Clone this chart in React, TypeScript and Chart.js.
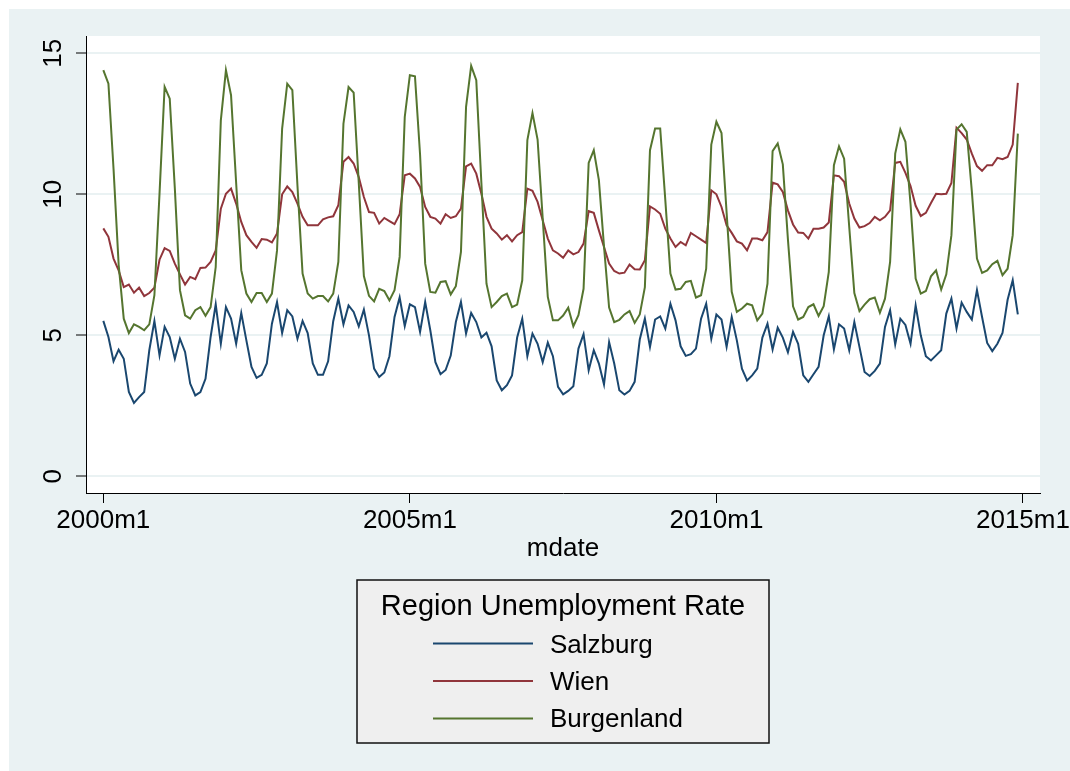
import { useEffect, useRef } from "react";
import { Chart, registerables } from "chart.js";

Chart.register(...registerables);

const FONT = '"Liberation Sans", Arial, Helvetica, sans-serif';

// Monthly unemployment rates, 2000m1 .. 2014m12
const salzburg = [
  5.51, 4.94, 4.08, 4.49, 4.17, 2.99, 2.6, 2.81, 2.99, 4.47, 5.51, 4.29,
  5.3, 4.94, 4.17, 4.88, 4.41, 3.29, 2.87, 2.99, 3.46, 4.94, 6.1, 4.7,
  6.0, 5.59, 4.7, 5.79, 4.82, 3.88, 3.49, 3.6, 4.0, 5.41, 6.18, 5.08,
  5.89, 5.67, 4.88, 5.51, 5.08, 4.0, 3.6, 3.6, 4.08, 5.5, 6.3, 5.39,
  6.06, 5.83, 5.32, 5.91, 5.0, 3.82, 3.52, 3.68, 4.26, 5.65, 6.34, 5.33,
  6.1, 6.0, 5.12, 6.18, 5.18, 4.05, 3.62, 3.77, 4.28, 5.47, 6.18, 5.06,
  5.79, 5.47, 4.92, 5.09, 4.61, 3.4, 3.05, 3.23, 3.58, 4.92, 5.59, 4.26,
  5.06, 4.7, 4.05, 4.74, 4.26, 3.17, 2.91, 3.03, 3.19, 4.53, 5.04, 3.76,
  4.47, 4.0, 3.26, 4.76, 4.0, 3.05, 2.9, 3.03, 3.35, 4.85, 5.59, 4.59,
  5.56, 5.67, 5.24, 6.12, 5.53, 4.61, 4.27, 4.33, 4.53, 5.59, 6.12, 4.88,
  5.74, 5.56, 4.59, 5.65, 4.82, 3.82, 3.4, 3.58, 3.82, 4.92, 5.41, 4.5,
  5.27, 4.92, 4.4, 5.12, 4.7, 3.58, 3.35, 3.62, 3.88, 5.0, 5.67, 4.5,
  5.39, 5.24, 4.47, 5.47, 4.59, 3.7, 3.56, 3.74, 4.0, 5.3, 5.89, 4.68,
  5.59, 5.37, 4.7, 6.06, 5.0, 4.26, 4.11, 4.29, 4.47, 5.77, 6.3, 5.24,
  6.16, 5.83, 5.56, 6.6, 5.65, 4.73, 4.44, 4.7, 5.08, 6.26, 6.95, 5.74,
];

const wien = [
  8.79, 8.49, 7.72, 7.3, 6.71, 6.8, 6.51, 6.69, 6.39, 6.5, 6.69, 7.68,
  8.09, 7.99, 7.54, 7.16, 6.8, 7.07, 6.99, 7.39, 7.4, 7.6, 8.01, 9.49,
  10.02, 10.2, 9.67, 9.02, 8.55, 8.31, 8.1, 8.41, 8.39, 8.29, 8.61, 10.0,
  10.28, 10.08, 9.67, 9.2, 8.9, 8.9, 8.9, 9.11, 9.18, 9.22, 9.61, 11.15,
  11.32, 11.09, 10.61, 9.9, 9.37, 9.34, 8.96, 9.16, 9.05, 8.94, 9.29, 10.67,
  10.73, 10.56, 10.26, 9.55, 9.2, 9.14, 8.96, 9.29, 9.16, 9.22, 9.49, 10.99,
  11.09, 10.73, 10.02, 9.2, 8.78, 8.61, 8.39, 8.55, 8.33, 8.55, 8.66, 10.2,
  10.12, 9.73, 9.08, 8.43, 8.01, 7.9, 7.75, 8.01, 7.87, 7.95, 8.25, 9.4,
  9.34, 8.72, 8.13, 7.54, 7.28, 7.19, 7.22, 7.51, 7.34, 7.33, 7.66, 9.57,
  9.46, 9.31, 8.78, 8.43, 8.13, 8.31, 8.19, 8.63, 8.51, 8.39, 8.27, 10.14,
  10.0, 9.55, 8.9, 8.63, 8.33, 8.25, 8.01, 8.43, 8.43, 8.37, 8.66, 10.41,
  10.35, 10.08, 9.43, 8.93, 8.64, 8.63, 8.43, 8.78, 8.78, 8.82, 9.0, 10.67,
  10.64, 10.44, 9.67, 9.14, 8.82, 8.87, 8.98, 9.2, 9.08, 9.2, 9.43, 11.11,
  11.15, 10.76, 10.29, 9.59, 9.23, 9.34, 9.69, 10.02, 10.0, 10.02, 10.4, 12.36,
  12.17, 11.94, 11.44, 11.0, 10.83, 11.03, 11.03, 11.29, 11.24, 11.32, 11.76, 13.95,
];

const burgenland = [
  14.4, 13.92, 10.9, 7.5, 5.59, 5.08, 5.39, 5.3, 5.18, 5.39, 6.42, 10.02,
  13.81, 13.39, 10.2, 6.6, 5.71, 5.59, 5.89, 6.0, 5.69, 6.0, 7.42, 12.62,
  14.4, 13.51, 10.4, 7.31, 6.48, 6.18, 6.5, 6.5, 6.18, 6.48, 8.01, 12.33,
  13.92, 13.69, 10.3, 7.19, 6.48, 6.3, 6.39, 6.39, 6.2, 6.48, 7.6, 12.5,
  13.8, 13.6, 10.4, 7.1, 6.4, 6.2, 6.65, 6.57, 6.24, 6.6, 7.78, 12.74,
  14.22, 14.18, 11.4, 7.54, 6.54, 6.51, 6.89, 6.92, 6.45, 6.74, 7.96, 13.1,
  14.55, 14.04, 10.4, 6.83, 6.0, 6.18, 6.39, 6.48, 6.0, 6.09, 6.95, 11.92,
  12.88, 11.94, 9.15, 6.36, 5.53, 5.53, 5.7, 5.98, 5.32, 5.71, 6.65, 11.11,
  11.56, 10.5, 8.15, 5.98, 5.47, 5.55, 5.74, 5.86, 5.44, 5.74, 6.71, 11.56,
  12.33, 12.33, 9.79, 7.19, 6.62, 6.65, 6.89, 6.93, 6.34, 6.42, 7.36, 11.76,
  12.57, 12.17, 9.35, 6.54, 5.83, 5.95, 6.12, 6.06, 5.53, 5.77, 6.83, 11.53,
  11.8, 11.06, 8.4, 6.03, 5.56, 5.65, 6.0, 6.1, 5.69, 6.03, 7.25, 11.03,
  11.7, 11.26, 8.84, 6.5, 5.86, 6.09, 6.28, 6.34, 5.8, 6.3, 7.6, 11.44,
  12.3, 11.86, 9.65, 7.01, 6.48, 6.57, 7.09, 7.3, 6.62, 7.16, 8.55, 12.29,
  12.48, 12.21, 10.1, 7.72, 7.21, 7.3, 7.52, 7.64, 7.13, 7.36, 8.55, 12.15,
];

const seriesNames = ["Salzburg", "Wien", "Burgenland"];
const seriesValues = [salzburg, wien, burgenland];
const seriesColors = ["#1A476F", "#90353B", "#55752F"];

const yTicks = [0, 5, 10, 15];
const xTickIndex = [0, 60, 120, 180];
const xTickLabels = ["2000m1", "2005m1", "2010m1", "2015m1"];
const xTitle = "mdate";
const legendTitle = "Region Unemployment Rate";

const bgPlugin = {
  id: "stataBackground",
  beforeDraw(chart: any) {
    const { ctx, width, height, chartArea } = chart;
    ctx.save();
    ctx.fillStyle = "#ffffff";
    ctx.fillRect(0, 0, width, height);
    ctx.fillStyle = "#EAF2F3";
    ctx.fillRect(9, 9, width - 9, height - 9);
    ctx.fillStyle = "#ffffff";
    ctx.fillRect(
      chartArea.left,
      chartArea.top,
      chartArea.right - chartArea.left,
      chartArea.bottom - chartArea.top
    );
    ctx.restore();
  },
};

const legendPlugin = {
  id: "stataLegend",
  afterDraw(chart: any) {
    const { ctx } = chart;
    const bx = 357;
    const by = 580;
    const bw = 412;
    const bh = 163;
    ctx.save();
    ctx.fillStyle = "#EFEFEF";
    ctx.fillRect(bx, by, bw, bh);
    ctx.strokeStyle = "#111111";
    ctx.lineWidth = 1.5;
    ctx.strokeRect(bx, by, bw, bh);

    ctx.fillStyle = "#000000";
    ctx.textBaseline = "alphabetic";
    ctx.textAlign = "center";
    ctx.font = `29px ${FONT}`;
    ctx.fillText(legendTitle, bx + bw / 2, 615);

    ctx.textAlign = "left";
    ctx.font = `26px ${FONT}`;
    chart.data.datasets.forEach((ds: any, i: number) => {
      const yLine = 643.5 + i * 37.5;
      ctx.strokeStyle = ds.borderColor;
      ctx.lineWidth = 2;
      ctx.beginPath();
      ctx.moveTo(433, yLine);
      ctx.lineTo(533, yLine);
      ctx.stroke();
      ctx.fillStyle = "#000000";
      ctx.fillText(ds.label, 550, 653.3 + i * 37);
    });
    ctx.restore();
  },
};

export default function App() {
  const canvasRef = useRef<HTMLCanvasElement | null>(null);

  useEffect(() => {
    const canvas = canvasRef.current;
    if (!canvas) return;

    const datasets = seriesNames.map((name, s) => ({
      label: name,
      data: seriesValues[s].map((v, i) => ({ x: i, y: v })),
      borderColor: seriesColors[s],
      backgroundColor: seriesColors[s],
      borderWidth: 2,
      pointRadius: 0,
      tension: 0,
      fill: false,
      order: seriesNames.length - s,
    }));

    const chart = new Chart(canvas, {
      type: "line",
      data: { datasets },
      options: {
        animation: false,
        responsive: false,
        devicePixelRatio: 1,
        layout: { padding: { top: 36, right: 30, bottom: 201, left: 0 } },
        plugins: {
          legend: { display: false },
          tooltip: { enabled: false },
        },
        scales: {
          x: {
            type: "linear",
            min: -3.39,
            max: 183.34,
            afterBuildTicks: (scale: any) => {
              scale.ticks = xTickIndex.map((v) => ({ value: v }));
            },
            afterFit: (scale: any) => {
              scale.height = 77;
              scale.paddingLeft = 0;
              scale.paddingRight = 0;
            },
            ticks: {
              autoSkip: false,
              minRotation: 0,
              maxRotation: 0,
              padding: 2,
              color: "#000000",
              font: { family: FONT, size: 26 },
              callback: (_v: any, i: number) => xTickLabels[i],
            },
            grid: {
              drawOnChartArea: false,
              drawTicks: true,
              tickLength: 10,
              tickColor: "#000000",
              tickWidth: 1,
              color: "#000000",
            },
            border: { display: true, color: "#000000", width: 1 },
            title: {
              display: true,
              text: xTitle,
              color: "#000000",
              font: { family: FONT, size: 26 },
              padding: { top: 0, bottom: 6 },
            },
          },
          y: {
            type: "linear",
            min: -0.59,
            max: 15.61,
            afterBuildTicks: (scale: any) => {
              scale.ticks = yTicks.map((v) => ({ value: v }));
            },
            afterFit: (scale: any) => {
              scale.width = 86;
              scale.paddingTop = 0;
              scale.paddingBottom = 0;
            },
            ticks: {
              minRotation: 90,
              maxRotation: 90,
              crossAlign: "center",
              padding: 7.5,
              color: "#000000",
              font: { family: FONT, size: 26 },
              callback: (v: any) => String(v),
            },
            grid: {
              color: "#EAF2F3",
              lineWidth: 2,
              drawTicks: true,
              tickLength: 10,
              tickColor: "#000000",
              tickWidth: 1,
            },
            border: { display: true, color: "#000000", width: 1 },
          },
        },
      } as any,
      plugins: [bgPlugin, legendPlugin],
    });

    return () => {
      chart.destroy();
    };
  }, []);

  return (
    <div style={{ position: "fixed", left: 0, top: 0, width: 1070, height: 771 }}>
      <canvas ref={canvasRef} width={1070} height={771} style={{ display: "block" }} />
    </div>
  );
}
